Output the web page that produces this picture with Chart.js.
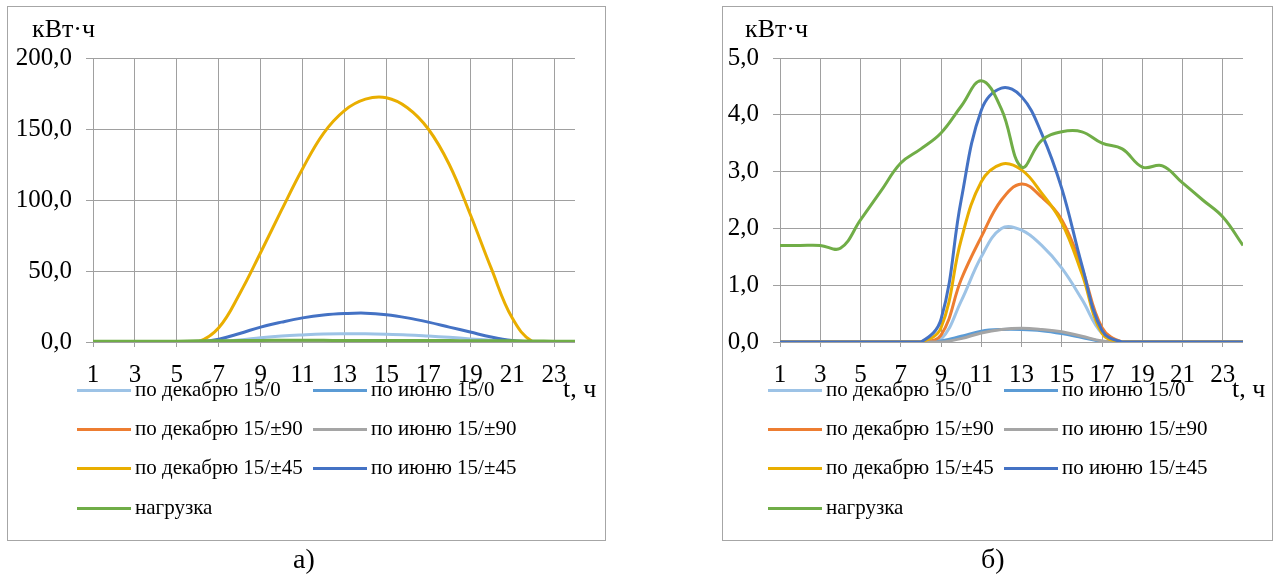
<!DOCTYPE html>
<html><head><meta charset="utf-8">
<script src="https://cdn.jsdelivr.net/npm/chart.js@4.4.0/dist/chart.umd.min.js"></script>
<style>
html,body{margin:0;padding:0;background:#fff;}
body{width:1274px;height:577px;position:relative;overflow:hidden;font-family:"Liberation Serif","Times New Roman",serif;color:#000;}
.frame{position:absolute;border:1px solid #A6A6A6;box-sizing:border-box;}
canvas{position:absolute;top:0;}
.t{position:absolute;white-space:nowrap;line-height:1;}
.lt{position:absolute;white-space:nowrap;font-size:21px;line-height:1;}
.sw{position:absolute;height:3px;}
</style></head><body>
<div class="frame" style="left:7px;top:6px;width:599px;height:535px;"></div>
<div class="frame" style="left:722px;top:6px;width:551px;height:535px;"></div>
<canvas id="cA" width="640" height="577" style="left:0px;"></canvas>
<canvas id="cB" width="634" height="577" style="left:640px;"></canvas>
<div class="t" style="left:32px;top:16px;font-size:26px;">кВт·ч</div>
<div class="t" style="left:745px;top:16px;font-size:26px;">кВт·ч</div>
<div class="t" style="left:563px;top:376px;font-size:26px;">t, ч</div>
<div class="t" style="left:1232px;top:376px;font-size:26px;">t, ч</div>
<div class="t" style="left:293px;top:545px;font-size:28px;">а)</div>
<div class="t" style="left:981px;top:545px;font-size:28px;">б)</div>
<div id="legA"></div><div id="legB"></div>
<script>
// ---- data ----
const hours = [1,2,3,4,5,6,7,8,9,10,11,12,13,14,15,16,17,18,19,20,21,22,23,24];
const xTicks = [1,3,5,7,9,11,13,15,17,19,21,23];
const seriesLabels = ["по декабрю 15/0","по июню 15/0","по декабрю 15/±90","по июню 15/±90","по декабрю 15/±45","по июню 15/±45","нагрузка"];
const seriesColors = ["#9DC3E6","#5B9BD5","#ED7D31","#A5A5A5","#E9AE00","#4472C4","#70AD47"];

// chart а) values
const a_dec0   = [0,0,0,0,0,0,0.5,1.5,3,4.2,5,5.6,5.8,5.8,5.5,5,4.2,3.3,2.2,1.2,0.4,0,0,0];
const a_jun0   = [0,0,0,0,0,0,0.1,0.3,0.5,0.7,0.8,0.9,0.9,0.9,0.8,0.7,0.6,0.4,0.3,0.1,0,0,0,0];
const a_dec90  = [0,0,0,0,0,0,0.1,0.3,0.6,0.8,1.0,1.1,1.1,1.1,1.0,0.9,0.7,0.5,0.3,0.1,0,0,0,0];
const a_jun90  = [0,0,0,0,0,0,0,0.2,0.4,0.5,0.6,0.7,0.7,0.7,0.6,0.5,0.4,0.3,0.2,0.1,0,0,0,0];
const a_dec45  = [0,0,0,0,0,0,10,34,63,93,122,147,163,171,172,165,150,125,90,52,17,0,0,0];
const a_jun45  = [0,0,0,0,0,0,2,6,10.5,14,17,19,20,20.3,19.2,17,14,10.5,7,3.5,1,0,0,0];
const a_load   = [0.5,0.5,0.5,0.5,0.6,0.8,0.9,1.0,1.1,1.2,1.3,1.2,1.0,1.1,1.1,1.1,1.0,1.0,0.9,0.9,0.8,0.7,0.6,0.5];

// chart б) values
const b_dec0   = [0,0,0,0,0,0,0,0,0.05,0.72,1.5,2.0,1.97,1.7,1.3,0.75,0.15,0,0,0,0,0,0,0];
const b_jun0   = [0,0,0,0,0,0,0,0,0.02,0.1,0.19,0.22,0.22,0.2,0.15,0.08,0.01,0,0,0,0,0,0,0];
const b_dec90  = [0,0,0,0,0,0,0,0,0.12,1.1,1.85,2.5,2.78,2.55,2.15,1.3,0.25,0,0,0,0,0,0,0];
const b_jun90  = [0,0,0,0,0,0,0,0,0,0.06,0.16,0.22,0.24,0.22,0.18,0.1,0.02,0,0,0,0,0,0,0];
const b_dec45  = [0,0,0,0,0,0,0,0,0.25,1.8,2.82,3.13,3.03,2.62,2.1,1.2,0.15,0,0,0,0,0,0,0];
const b_jun45  = [0,0,0,0,0,0,0,0,0.4,2.5,4.08,4.47,4.32,3.67,2.7,1.35,0.2,0,0,0,0,0,0,0];
const b_load   = [1.7,1.7,1.7,1.65,2.15,2.65,3.15,3.4,3.68,4.15,4.6,4.1,3.08,3.55,3.7,3.7,3.5,3.4,3.08,3.1,2.8,2.5,2.2,1.7];

const aTicksMax = 200, aStep = 50;
const bTicksMax = 5, bStep = 1;

const FONT = "'Liberation Serif','Times New Roman',serif";

function makeChart(id, sets, yMax, yStep, plotLeft, plotRight, canvasW) {
  const datasets = sets.map((vals, i) => ({
    label: seriesLabels[i],
    data: hours.map((h, k) => ({x: h, y: vals[k]})),
    borderColor: seriesColors[i],
    backgroundColor: seriesColors[i],
    borderWidth: 3,
    pointRadius: 0,
    tension: 0.4,
    fill: false,
    order: sets.length - i
  }));
  return new Chart(document.getElementById(id), {
    type: 'line',
    data: {datasets},
    options: {
      responsive: false, animation: false, events: [],
      layout: {padding: {left: 0, top: 58, right: canvasW - plotRight, bottom: 577 - 342 - 50}},
      plugins: {legend: {display: false}, tooltip: {enabled: false}, title: {display: false}},
      scales: {
        x: {
          type: 'linear', min: 1, max: 24,
          afterBuildTicks: s => { s.ticks = xTicks.map(v => ({value: v})); },
          afterFit: s => { s.height = 50; },
          grid: {color: '#A0A0A0', lineWidth: 1, tickLength: 5, drawTicks: true},
          border: {display: false},
          ticks: {font: {family: FONT, size: 25}, color: '#000', padding: 13, maxRotation: 0, autoSkip: false, callback: v => String(v)}
        },
        y: {
          min: 0, max: yMax,
          afterFit: s => { s.width = plotLeft; },
          grid: {color: '#A0A0A0', lineWidth: 1, tickLength: 7},
          border: {display: false},
          ticks: {stepSize: yStep, font: {family: FONT, size: 25}, color: '#000', padding: 14,
                  callback: v => v.toFixed(1).replace('.', ',')}
        }
      }
    }
  });
}

makeChart('cA', [a_dec0,a_jun0,a_dec90,a_jun90,a_dec45,a_jun45,a_load], aTicksMax, aStep, 93, 575, 640);
makeChart('cB', [b_dec0,b_jun0,b_dec90,b_jun90,b_dec45,b_jun45,b_load], bTicksMax, bStep, 140, 603, 634);

function legend(elId, x0, colGap) {
  const el = document.getElementById(elId);
  const rowsY = [390, 429, 468, 508];
  seriesLabels.forEach((lab, i) => {
    const col = i % 2, row = Math.floor(i / 2);
    const lx = x0 + col * colGap, y = rowsY[row];
    const sw = document.createElement('div');
    sw.className = 'sw';
    sw.style.left = lx + 'px'; sw.style.top = (y - 1) + 'px'; sw.style.width = '54px';
    sw.style.background = seriesColors[i];
    el.appendChild(sw);
    const tx = document.createElement('div');
    tx.className = 'lt';
    tx.style.left = (lx + 58) + 'px'; tx.style.top = (y - 11) + 'px';
    tx.textContent = lab;
    el.appendChild(tx);
  });
}
legend('legA', 77, 236);
legend('legB', 768, 236);
</script>
</body></html>
